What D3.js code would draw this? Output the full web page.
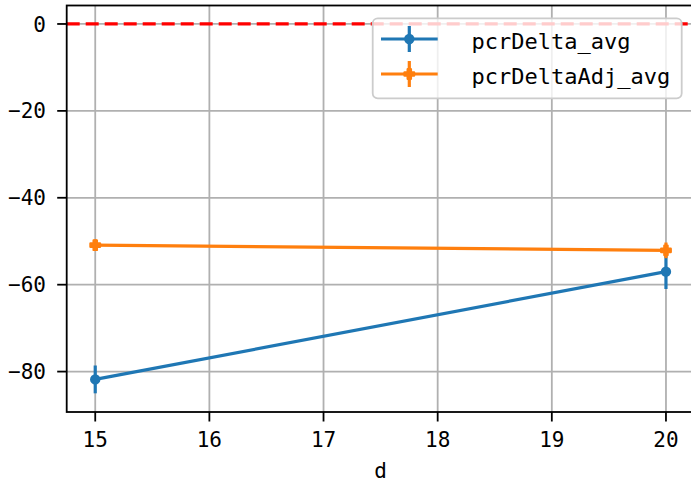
<!DOCTYPE html>
<html>
<head>
<meta charset="utf-8">
<script src="https://cdn.jsdelivr.net/npm/d3@7"></script>
<style>
  html, body { margin: 0; padding: 0; background: #fff; }
  svg { display: block; }
  text { font-family: "DejaVu Sans Mono", "Liberation Mono", monospace; fill: #000; }
</style>
</head>
<body>
<svg id="chart" width="691" height="482"></svg>
<script>
// ---- data ----
const xValues = [15, 20];
const seriesNames = ["pcrDelta_avg", "pcrDeltaAdj_avg"];
const pcrDeltaAvg = [-81.8, -57.0];
const pcrDeltaAvgErr = [3.2, 4.0];
const pcrDeltaAdjAvg = [-50.9, -52.1];
const pcrDeltaAdjAvgErr = [1.3, 1.8];
const xTicks = [15, 16, 17, 18, 19, 20];
const yTicks = [0, -20, -40, -60, -80];
const refLineY = 0;
const xLabel = "d";
const colors = ["#1f77b4", "#ff7f0e"];

// ---- layout ----
const svg = d3.select("#chart");
const L = 66.7, R = 694.5, T = 5.5, B = 412;
const x = d3.scaleLinear().domain([14.75, 20.25]).range([L, R]);
const y = d3.scaleLinear().domain([-89.3, 4.25]).range([B, T]);

const fmt = v => (v < 0 ? "\u2212" + Math.abs(v) : String(v));

// grid
const grid = svg.append("g");
grid.selectAll(".gx").data(xTicks).join("line")
  .attr("x1", d => x(d)).attr("x2", d => x(d)).attr("y1", T).attr("y2", B)
  .attr("stroke", "#b0b0b0").attr("stroke-width", 1.8);
grid.selectAll(".gy").data(yTicks).join("line")
  .attr("x1", L).attr("x2", R).attr("y1", d => y(d)).attr("y2", d => y(d))
  .attr("stroke", "#b0b0b0").attr("stroke-width", 1.8);

// reference line
svg.append("line")
  .attr("x1", L).attr("x2", R).attr("y1", y(refLineY)).attr("y2", y(refLineY))
  .attr("stroke", "#ff0000").attr("stroke-width", 3.2)
  .attr("stroke-dasharray", "13,6");

// series
const series = [
  { name: seriesNames[0], vals: pcrDeltaAvg, err: pcrDeltaAvgErr, color: colors[0], marker: "circle" },
  { name: seriesNames[1], vals: pcrDeltaAdjAvg, err: pcrDeltaAdjAvgErr, color: colors[1], marker: "plus" }
];

const plusPath = s => {
  const a = s / 2, b = s / 6;
  return `M${-b},${-a}H${b}V${-b}H${a}V${b}H${b}V${a}H${-b}V${b}H${-a}V${-b}H${-b}Z`;
};

function drawMarker(g, cx, cy, s) {
  if (s.marker === "circle") {
    g.append("circle").attr("cx", cx).attr("cy", cy).attr("r", 5.2).attr("fill", s.color);
  } else {
    g.append("path").attr("d", plusPath(9.5)).attr("transform", `translate(${cx},${cy})`)
      .attr("fill", s.color).attr("stroke", s.color).attr("stroke-width", 2.4)
      .attr("stroke-linejoin", "round");
  }
}

const line = d3.line().x((d, i) => x(xValues[i])).y(d => y(d));
series.forEach(s => {
  const g = svg.append("g");
  g.selectAll("line.err").data(s.vals).join("line")
    .attr("x1", (d, i) => x(xValues[i])).attr("x2", (d, i) => x(xValues[i]))
    .attr("y1", (d, i) => y(d + s.err[i])).attr("y2", (d, i) => y(d - s.err[i]))
    .attr("stroke", s.color).attr("stroke-width", 3.2);
  g.append("path").datum(s.vals).attr("d", line)
    .attr("fill", "none").attr("stroke", s.color).attr("stroke-width", 3.2);
  s.vals.forEach((d, i) => drawMarker(g, x(xValues[i]), y(d), s));
});

// spines
const sp = svg.append("g").attr("stroke", "#000").attr("stroke-width", 1.8).attr("fill", "none");
sp.append("rect").attr("x", L).attr("y", T).attr("width", R - L).attr("height", B - T);

// ticks
svg.selectAll(".tx").data(xTicks).join("line")
  .attr("x1", d => x(d)).attr("x2", d => x(d)).attr("y1", B).attr("y2", B + 9.5)
  .attr("stroke", "#000").attr("stroke-width", 1.8);
svg.selectAll(".ty").data(yTicks).join("line")
  .attr("x1", L - 9.5).attr("x2", L).attr("y1", d => y(d)).attr("y2", d => y(d))
  .attr("stroke", "#000").attr("stroke-width", 1.8);

svg.selectAll(".lx").data(xTicks).join("text")
  .attr("x", d => x(d)).attr("y", 439).attr("dy", "0.36em")
  .attr("text-anchor", "middle").attr("font-size", 21).text(d => fmt(d));
svg.selectAll(".ly").data(yTicks).join("text")
  .attr("x", 46).attr("y", d => y(d)).attr("dy", "0.36em")
  .attr("text-anchor", "end").attr("font-size", 21).text(d => fmt(d));

svg.append("text").attr("x", 380.7).attr("y", 470).attr("dy", "0.36em")
  .attr("text-anchor", "middle").attr("font-size", 21).text(xLabel);

// legend
const lg = svg.append("g");
lg.append("rect").attr("x", 372.7).attr("y", 18.3).attr("width", 309).attr("height", 80)
  .attr("rx", 5).attr("fill", "#fff").attr("fill-opacity", 0.8)
  .attr("stroke", "#cccccc").attr("stroke-width", 1.8);
const legendRows = [39, 74];
series.forEach((s, i) => {
  const cy = legendRows[i];
  lg.append("line").attr("x1", 381).attr("x2", 437.7).attr("y1", cy).attr("y2", cy)
    .attr("stroke", s.color).attr("stroke-width", 3.2);
  lg.append("line").attr("x1", 409.3).attr("x2", 409.3).attr("y1", cy - 13).attr("y2", cy + 13)
    .attr("stroke", s.color).attr("stroke-width", 3.2);
  drawMarker(lg, 409.3, cy, s);
  lg.append("text").attr("x", 471.5).attr("y", cy + 2.5).attr("dy", "0.36em")
    .attr("font-size", 22).text(s.name);
});
</script>
</body>
</html>
